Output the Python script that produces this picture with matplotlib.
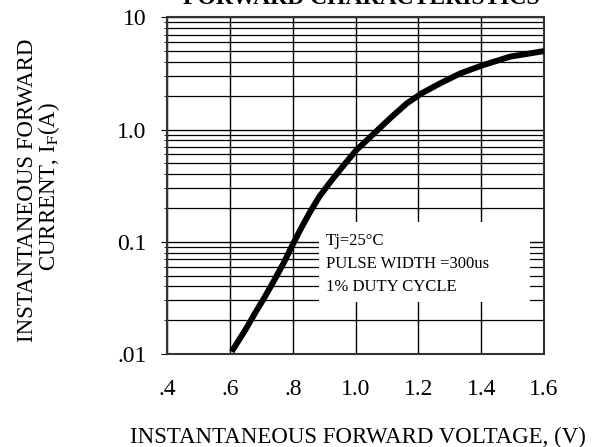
import matplotlib
matplotlib.use('Agg')
import matplotlib.pyplot as plt
from matplotlib.patches import Rectangle

# 순방향 전압 / 전류
volt = [0.605, 0.648, 0.679, 0.711, 0.741, 0.770, 0.796, 0.823, 0.852, 0.884, 0.924,
        0.967, 1.003, 1.035, 1.065, 1.115, 1.163, 1.210, 1.269, 1.334, 1.407, 1.492, 1.6]
curr = [0.0105, 0.0163, 0.0230, 0.0324, 0.0456, 0.0642, 0.0902, 0.127, 0.179, 0.252, 0.355,
        0.50, 0.66, 0.80, 0.96, 1.30, 1.71, 2.10, 2.58, 3.17, 3.76, 4.46, 5.0]

x_ticks = [0.4, 0.6, 0.8, 1.0, 1.2, 1.4, 1.6]
x_labels = ['.4', '.6', '.8', '1.0', '1.2', '1.4', '1.6']
y_ticks = [0.01, 0.1, 1.0, 10]
y_labels = ['.01', '0.1', '1.0', '10']

plt.rcParams['font.family'] = ['Liberation Serif', 'DejaVu Serif']
plt.rcParams['mathtext.fontset'] = 'stix'

fig = plt.figure(figsize=(6.02, 4.47), dpi=100)
ax = fig.add_axes([0.2779, 0.208, 0.6258, 0.7533])

ax.set_yscale('log')
ax.set_xlim(0.4, 1.6)
ax.set_ylim(0.01, 10)
ax.set_axisbelow(True)

ax.plot(volt, curr, color='black', linewidth=4.3, solid_capstyle='butt',
        solid_joinstyle='round', zorder=3)

ax.set_xticks(x_ticks)
ax.set_xticklabels(x_labels, fontsize=17)
ax.set_yticks(y_ticks)
ax.set_yticklabels(y_labels, fontsize=17)
ax.tick_params(axis='x', length=0, pad=18)
ax.tick_params(axis='y', which='major', length=4, pad=11)
ax.tick_params(axis='y', which='minor', length=2)

ax.grid(True, which='major', color='black', linewidth=1.0)
ax.grid(True, which='minor', axis='y', color='black', linewidth=0.9)
for s in ax.spines.values():
    s.set_linewidth(1.5)
    s.set_color('#333333')

# 조건 박스 (격자선을 가림)
ax.add_patch(Rectangle((0.403, 0.154), 0.56, 0.238, transform=ax.transAxes,
                       facecolor='white', edgecolor='none', zorder=1))
ax.text(0.42, 0.335, 'Tj=25\u00b0C', transform=ax.transAxes, fontsize=12, va='center', zorder=4)
ax.text(0.42, 0.267, 'PULSE WIDTH =300us', transform=ax.transAxes, fontsize=12, va='center', zorder=4)
ax.text(0.42, 0.200, '1% DUTY CYCLE', transform=ax.transAxes, fontsize=12, va='center', zorder=4)

fig.text(0.6, 1 - 4 / 447, 'FORWARD CHARACTERISTICS', fontsize=17, fontweight='bold',
         ha='center', va='baseline')
fig.text(0.595, 0.022, 'INSTANTANEOUS FORWARD VOLTAGE, (V)', fontsize=16.5, ha='center', va='center')
fig.text(0.045, 0.575, 'INSTANTANEOUS FORWARD', fontsize=16.5, rotation=90, ha='center', va='center')
fig.text(0.081, 0.582, 'CURRENT, I$_{\\mathrm{F}}$(A)', fontsize=16.5, rotation=90, ha='center', va='center')

plt.savefig('out.png', dpi=100)
